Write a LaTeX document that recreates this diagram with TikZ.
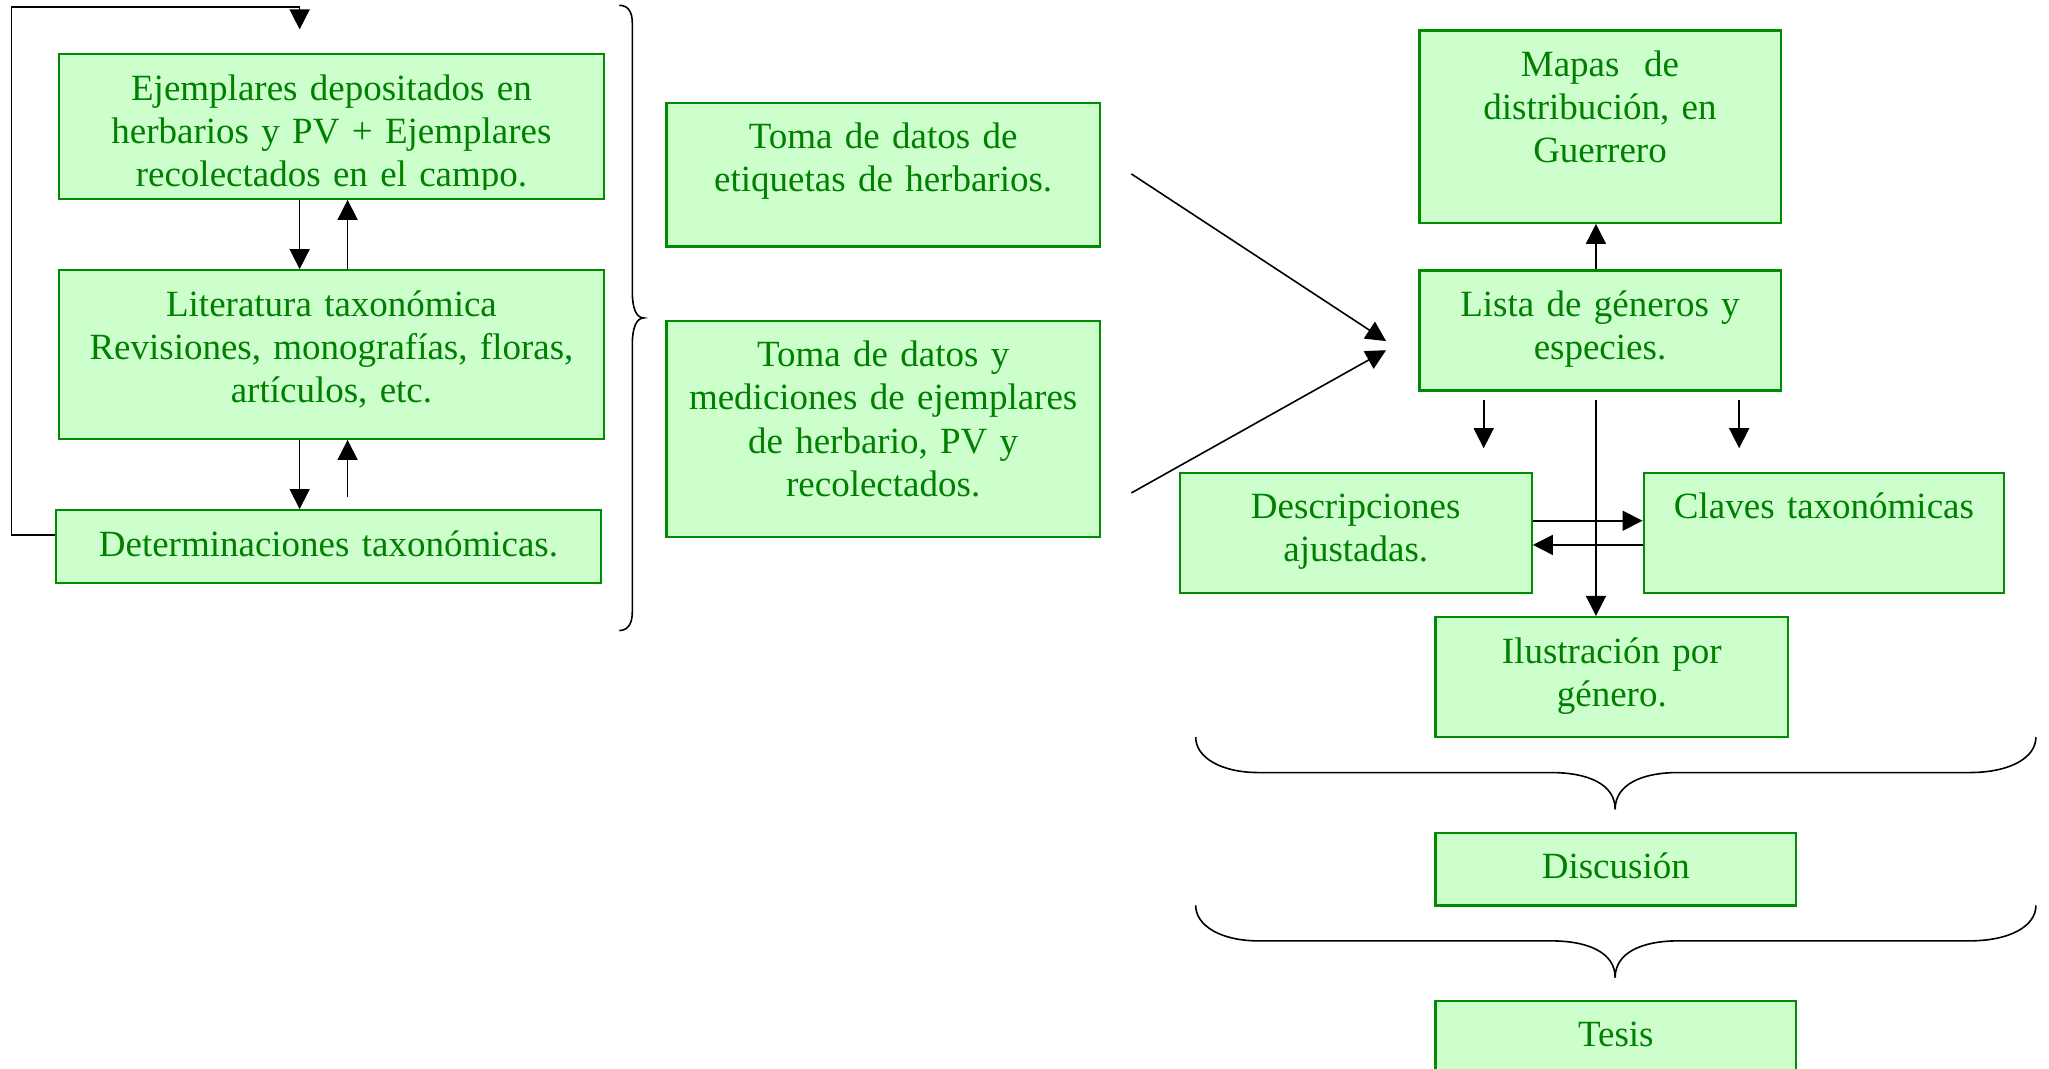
\documentclass[tikz,border=0pt]{standalone}
\usepackage{fontspec}
\setmainfont{Liberation Serif}
\usetikzlibrary{arrows.meta,calc,fit}
\definecolor{boxfill}{RGB}{204,255,204}
\definecolor{boxline}{RGB}{0,140,0}
\definecolor{txtgreen}{RGB}{0,128,0}
\begin{document}
\begin{tikzpicture}[x=0.6535pt,y=-0.6535pt,
  box/.style={draw=boxline, fill=boxfill, line width=1.1pt, inner sep=0pt, rectangle},
  txt/.style={text=txtgreen, align=center, text width=300pt, inner sep=0pt, anchor=base,
              font=\fontsize{18.5pt}{21.6pt}\selectfont},
  ln/.style={line width=0.8pt, black},
  arr/.style={ln, -{Triangle[length=10pt,width=10pt]}},
  brace/.style={line width=0.8pt, black}]
\useasboundingbox (0,0) rectangle (1568,818);
\clip (0,0) rectangle (1568,818);

% ---------- left column ----------
\node[box, fit={(45.1,41.5) (462.2,152.1)}] (b1) {};
\node[box, fit={(45.1,206.8) (462.2,335.8)}] (b2) {};
\node[box, fit={(42.8,390.4) (459.9,446)}] (b3) {};
\begin{scope}
  \clip (b1.north west) rectangle ($(b1.south east)+(0,-8)$);
  \node[txt] (t1) at ($(b1.north)+(0,36)$) {Ejemplares depositados en\\herbarios y PV + Ejemplares\\recolectados en el campo.};
\end{scope}
\node[txt] (t2) at ($(b2.north)+(0,36)$) {Literatura taxonómica\\Revisiones, monografías, floras,\\artículos, etc.};
\node[txt] (t3) at ($(b3.north)+(0,36)$) {Determinaciones taxonómicas.};

\coordinate (xL) at (229.3,0);
\coordinate (xR) at (266,0);
\coordinate (yLoop) at (0,409.2);
\coordinate (lc) at (8.7,5.3);
\coordinate (loopend) at (229.3,22.5);
\coordinate (upstart) at (266,380.4);
\draw[arr] (b3.west |- yLoop) -| (lc) -| (loopend);
\draw[arr] (b1.south -| xL) -- (b2.north -| xL);
\draw[arr] (b2.north -| xR) -- (b1.south -| xR);
\draw[arr] (b2.south -| xL) -- (b3.north -| xL);
\draw[arr] (upstart) -- (b2.south -| xR);

% left brace
\draw[brace] (473.9,4.1) .. controls (480,4.1) and (483.9,8) .. (483.9,18)
  -- (483.9,224) .. controls (483.9,236) and (487,243.3) .. (492.6,243.3)
  .. controls (487,243.3) and (483.9,251) .. (483.9,263)
  -- (483.9,468) .. controls (483.9,478) and (480,482.5) .. (473.9,482.5);

% ---------- middle column ----------
\node[box, fit={(510.1,78.7) (841.6,188.6)}] (m1) {};
\node[box, fit={(510.1,245.4) (841.6,410.8)}] (m2) {};
\node[txt] (tm1) at ($(m1.north)+(0,36)$) {Toma de datos de\\etiquetas de herbarios.};
\node[txt] (tm2) at ($(m2.north)+(0,36)$) {Toma de datos y\\mediciones de ejemplares\\de herbario, PV y\\recolectados.};

\coordinate (d1s) at (865.8,133.1);
\coordinate (d1e) at (1060.7,261);
\coordinate (d2s) at (865.8,377.2);
\coordinate (d2e) at (1060.7,268);
\draw[arr] (d1s) -- (d1e);
\draw[arr] (d2s) -- (d2e);

% ---------- right column ----------
\node[box, fit={(1086.2,23.4) (1362.6,170.5)}] (mapas) {};
\node[box, fit={(1086.2,207) (1362.6,298.9)}] (lista) {};
\node[box, fit={(902.8,361.7) (1172.2,453.5)}] (desc) {};
\node[box, fit={(1257.8,361.7) (1533.8,453.5)}] (claves) {};
\node[box, fit={(1098.5,472.2) (1368.4,564.2)}] (ilus) {};
\node[box, fit={(1098.5,637.2) (1374.5,693)}] (disc) {};
\node[box, fit={(1098.5,765.8) (1374.5,840)}] (tesis) {};

\node[txt] (tmapas) at ($(mapas.north)+(0,36)$) {Mapas\ \ de\\distribución, en\\Guerrero};
\node[txt] (tlista) at ($(lista.north)+(0,36)$) {Lista de géneros y\\especies.};
\node[txt] (tdesc) at ($(desc.north)+(0,36)$) {Descripciones\\ajustadas.};
\node[txt] (tclaves) at ($(claves.north)+(0,36)$) {Claves taxonómicas};
\node[txt] (tilus) at ($(ilus.north)+(0,36)$) {Ilustración por\\género.};
\node[txt] (tdisc) at ($(disc.north)+(0,36)$) {Discusión};
\node[txt] (ttesis) at ($(tesis.north)+(0,36)$) {Tesis};

\coordinate (xM) at (1221.3,0);
\coordinate (sa1s) at (1135.4,306);
\coordinate (sa1e) at (1135.4,343);
\coordinate (sa2s) at (1330.9,306);
\coordinate (sa2e) at (1330.9,343);
\coordinate (vs) at (1221.3,306);
\coordinate (yA) at (0,398.5);
\coordinate (yB) at (0,417);
\draw[arr] (lista.north -| xM) -- (mapas.south -| xM);
\draw[arr] (sa1s) -- (sa1e);
\draw[arr] (sa2s) -- (sa2e);
\draw[arr] (vs) -- (ilus.north -| xM);
\draw[arr] (desc.east |- yA) -- (claves.west |- yA);
\draw[arr] (claves.west |- yB) -- (desc.east |- yB);

% horizontal braces
\foreach \dy in {0, 128.8} {
  \draw[brace] (915,564+\dy) .. controls (915,580+\dy) and (935,591.2+\dy) .. (963,591.2+\dy)
    -- (1187,591.2+\dy) .. controls (1215,591.2+\dy) and (1236,600+\dy) .. (1236,619.3+\dy);
  \draw[brace] (1558,564+\dy) .. controls (1558,580+\dy) and (1538,591.2+\dy) .. (1507,591.2+\dy)
    -- (1284,591.2+\dy) .. controls (1257,591.2+\dy) and (1236,600+\dy) .. (1236,619.3+\dy);
}
\end{tikzpicture}
\end{document}
